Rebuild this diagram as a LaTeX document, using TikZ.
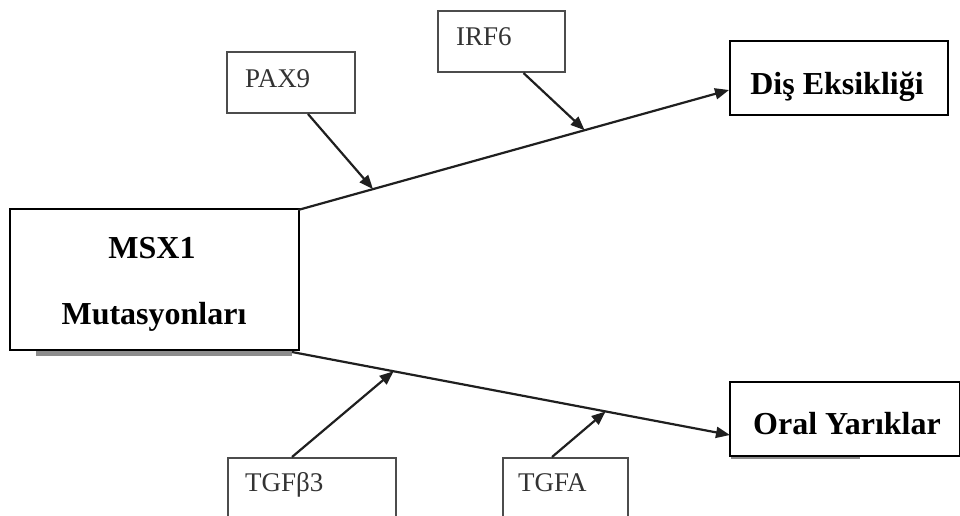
\documentclass[tikz,border=0pt]{standalone}
\usepackage{fontspec}
\setmainfont{Liberation Serif}
\usetikzlibrary{arrows.meta,calc}
\begin{document}
\begin{tikzpicture}[x=1pt,y=-1pt,
  bigbox/.style={draw=black, line width=2.4pt, fill=white, inner sep=0pt},
  smallbox/.style={draw=black!70, line width=2pt, inner sep=0pt},
  shadowbar/.style={fill=black!45, draw=none},
  biglabel/.style={inner sep=0pt, anchor=base, font=\fontsize{32}{36}\selectfont\bfseries},
  smalllabel/.style={inner sep=0pt, anchor=base west, text=black!80, font=\fontsize{27}{30}\selectfont},
  conn/.style={line width=2.2pt, draw=black!88, -{Triangle[length=14pt,width=11pt]}},
]
\useasboundingbox (0,0) rectangle (960,515);
\fill[white] (0,0) rectangle (960,515);

% shadows
\fill[shadowbar] (36,350) rectangle (292,355.5);
\fill[shadowbar] (731,455) rectangle (860,459);

% big boxes
\node[bigbox, minimum width=289pt, minimum height=141pt, anchor=north west] (msx) at (9,208) {};
\node[bigbox, minimum width=218pt, minimum height=74pt, anchor=north west] (dis) at (729,40) {};
\node[bigbox, minimum width=230pt, minimum height=74pt, anchor=north west] (oral) at (729,381) {};

\node[biglabel] (msxa) at (152,258) {MSX1};
\node[biglabel] (msxb) at (154,324) {Mutasyonları};
\node[biglabel] (disl) at (837,94) {Diş Eksikliği};
\node[biglabel] (orall) at (847,434) {Oral Yarıklar};

% small boxes
\node[smallbox, minimum width=128pt, minimum height=61pt, anchor=north west] (pax) at (226,51) {};
\node[smallbox, minimum width=127pt, minimum height=61pt, anchor=north west] (irf) at (437,10) {};
\node[smallbox, minimum width=168pt, minimum height=80pt, anchor=north west] (tgfb) at (227,457) {};
\node[smallbox, minimum width=125pt, minimum height=80pt, anchor=north west] (tgfa) at (502,457) {};

\node[smalllabel] (paxl) at (245,87) {PAX9};
\node[smalllabel] (irfl) at (456,45) {IRF6};
\node[smalllabel] (tgfbl) at (245,491) {TGFβ3};
\node[smalllabel] (tgfal) at (518,491) {TGFA};

% main connectors
\coordinate (disin) at (729,90);
\coordinate (oralin) at (730,435);
\coordinate (upstart) at (298,210);
\coordinate (lowstart) at (292,352);
\draw[conn] (upstart) -- (disin);
\draw[conn] (lowstart) -- (oralin);

% modifier arrows
\coordinate (paxt) at ($(upstart)!0.174!(disin)$);
\coordinate (irft) at ($(upstart)!0.665!(disin)$);
\coordinate (tgfbt) at ($(lowstart)!0.232!(oralin)$);
\coordinate (tgfat) at ($(lowstart)!0.716!(oralin)$);
\draw[conn] ($(pax.south)+(17,0)$) -- (paxt);
\draw[conn] ($(irf.south)+(22,0)$) -- (irft);
\draw[conn] ($(tgfb.north west)+(65,0)$) -- (tgfbt);
\draw[conn] ($(tgfa.north west)+(50,0)$) -- (tgfat);
\end{tikzpicture}
\end{document}
